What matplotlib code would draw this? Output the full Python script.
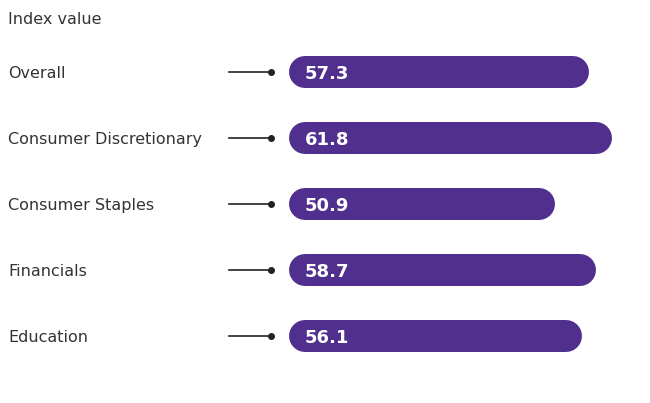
import matplotlib
matplotlib.use('Agg')
import matplotlib.pyplot as plt
from matplotlib.transforms import blended_transform_factory

# 指数データ
categories = ['Overall', 'Consumer Discretionary', 'Consumer Staples', 'Financials', 'Education']
values = [57.3, 61.8, 50.9, 58.7, 56.1]

BAR_COLOR = '#512f8f'
TEXT_COLOR = '#333333'

W, H = 650, 403
fig = plt.figure(figsize=(W / 100, H / 100), dpi=100)
ax = fig.add_axes([0, 0, 1, 1])
ax.axis('off')

# x: 0 が左から289px, 1単位あたり5.23px / y: 行間66px
px_per_x = 5.23
px_per_row = 66
x0_px = 289
row0_px = 72
ax.set_xlim(-x0_px / px_per_x, (W - x0_px) / px_per_x)
ax.set_ylim((H - row0_px) / px_per_row, -row0_px / px_per_row)

bar_px = 32
radius_x = (bar_px / 2) / px_per_x
bar_lw = bar_px * 72 / 100  # px -> pt

fig_y = blended_transform_factory(fig.transFigure, ax.transData)

for i, (cat, val) in enumerate(zip(categories, values)):
    # 両端が半円のバー（丸キャップの太線で描画）
    ax.plot([radius_x, val - radius_x], [i, i], color=BAR_COLOR, lw=bar_lw,
            solid_capstyle='round')

    # 数値ラベル
    ax.text(16 / px_per_x, i, f'{val:.1f}', color='white', fontsize=13,
            fontweight='bold', ha='left', va='center_baseline')

    # カテゴリ名
    ax.text(8 / W, i, cat, transform=fig_y, color=TEXT_COLOR, fontsize=11.5,
            ha='left', va='center_baseline')

    # 引き出し線
    ax.plot([229 / W, 271 / W], [i, i], transform=fig_y, color='#222222', lw=1.2)
    ax.plot([271 / W], [i], transform=fig_y, marker='o', markersize=4,
            color='#222222')

fig.text(8 / W, 1 - 20 / H, 'Index value', color=TEXT_COLOR, fontsize=11.5,
         ha='left', va='center')

fig.savefig('out.png', dpi=100)
plt.close(fig)
